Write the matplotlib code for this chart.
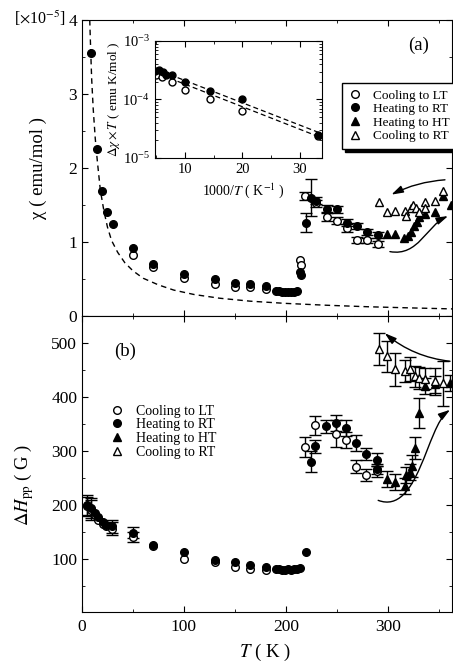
import numpy as np
import matplotlib
matplotlib.use("Agg")
import matplotlib.pyplot as plt
from matplotlib.lines import Line2D
from matplotlib.path import Path
from matplotlib.patches import FancyArrowPatch
from matplotlib.ticker import MultipleLocator, FixedLocator

plt.rcParams["font.family"] = ["Liberation Serif", "DejaVu Serif"]
plt.rcParams["mathtext.fontset"] = "stix"

# ---- (a) susceptibility ----
# Cooling to LT (open circles)
T_cl_a = [50, 70, 100, 130, 150, 165, 180, 214, 215, 219, 230, 240, 250, 260, 270, 280, 290]
chi_cl = [0.83, 0.66, 0.52, 0.43, 0.39, 0.39, 0.36, 0.75, 0.69, 1.62, 1.52, 1.34, 1.29, 1.19, 1.03, 1.02, 0.97]
chi_cl_err = [0, 0, 0, 0, 0, 0, 0, 0, 0, 0.05, 0.05, 0.05, 0.05, 0.05, 0.04, 0.04, 0.04]
# Heating to RT (filled circles)
T_hr_a = [9, 15, 20, 25, 30, 50, 70, 100, 130, 150, 165, 180, 190, 193, 196, 199, 202, 205, 208, 211,
          214, 215, 220, 225, 230, 240, 250, 260, 270, 280, 290]
chi_hr = [3.55, 2.26, 1.69, 1.41, 1.24, 0.92, 0.70, 0.57, 0.50, 0.44, 0.43, 0.41, 0.34, 0.34, 0.33, 0.33,
          0.33, 0.33, 0.33, 0.34, 0.60, 0.55, 1.26, 1.60, 1.56, 1.45, 1.44, 1.26, 1.21, 1.13, 1.10]
chi_hr_err = [0] * 22 + [0.125, 0.25, 0.05, 0.05, 0.05, 0.05, 0.04, 0.04, 0.04]
# Heating to HT (filled triangles)
T_hh_a = [299, 307, 316, 320, 323, 326, 329, 331, 336, 346, 354, 362]
chi_hh = [1.11, 1.11, 1.06, 1.08, 1.14, 1.21, 1.27, 1.34, 1.38, 1.41, 1.62, 1.50]
# Cooling to RT (open triangles)
T_cr_a = [291, 299, 307, 317, 318, 323, 325, 328, 331, 336, 336, 346, 354]
chi_cr = [1.54, 1.40, 1.42, 1.42, 1.35, 1.46, 1.50, 1.46, 1.40, 1.54, 1.46, 1.56, 1.69]
# dashed Curie curve
T_fit = [7.6, 8.5, 9.5, 11, 13, 15, 18, 21.5, 25, 29, 35, 42, 50, 60, 75, 90, 110, 135, 165, 200,
         240, 280, 320, 365]
chi_fit = [4.0, 3.6, 3.2, 2.8, 2.4, 2.1, 1.7, 1.42, 1.2, 1.02, 0.86, 0.72, 0.61, 0.51, 0.42, 0.35,
           0.29, 0.24, 0.20, 0.17, 0.145, 0.125, 0.11, 0.095]

# ---- inset ----
inv_T_hr = [4.78, 5.53, 6.2, 6.8, 7.7, 10, 14.3, 20, 33.2]
dchiT_hr = [3.04e-4, 3.2e-4, 2.9e-4, 2.67e-4, 2.57e-4, 1.96e-4, 1.37e-4, 1.02e-4, 2.5e-5]
inv_T_cl = [5.07, 5.95, 7.7, 10, 14.3, 20, 33.2]
dchiT_cl = [2.67e-4, 2.46e-4, 1.96e-4, 1.45e-4, 1.02e-4, 6.4e-5, 2.4e-5]
fit_x = [4.8, 33.8]
fit_upper = [3.34e-4, 2.6e-5]
fit_lower = [2.9e-4, 2.2e-5]

# ---- (b) linewidth ----
T_cl_b = [5, 8.5, 13, 16, 21, 24, 29, 50, 70, 100, 130, 150, 165, 180, 219, 229, 249, 259, 269, 279, 289]
H_cl = [197, 190, 180, 172, 165, 160, 155, 140, 124, 100, 93, 85, 80, 79, 307, 347, 332, 320, 270, 255, 262]
H_cl_err = [18, 18, 0, 0, 0, 0, 12, 10, 0, 0, 0, 0, 0, 0, 18, 17, 25, 15, 12, 12, 10]
T_hr_b = [5, 8.5, 13, 16, 21, 24, 29, 50, 70, 100, 130, 150, 165, 180, 190, 193, 196, 199, 202, 205,
          208, 211, 214, 220, 225, 229, 239, 249, 259, 269, 279, 289, 289]
H_hr = [199, 194, 184, 177, 168, 162, 160, 148, 125, 112, 98, 94, 89, 85, 80, 80, 79, 79, 80, 79,
        80, 81, 82, 112, 280, 308, 345, 352, 342, 314, 294, 283, 266]
H_hr_err = [18, 18, 0, 0, 0, 0, 12, 10] + [0] * 16 + [20, 12, 12, 15, 15, 15, 12, 12, 10]
T_hh_b = [299, 307, 317, 318, 322, 324, 326.5, 330.5, 336, 346, 361]
H_hh = [247, 242, 235, 255, 261, 272, 305, 370, 420, 423, 425]
H_hh_err = [15, 15, 15, 15, 15, 20, 20, 28, 15, 15, 15]
T_cr_b = [291, 299, 307, 317, 322, 327, 331, 336, 346, 354]
H_cr = [489, 475, 451, 448, 452, 438, 435, 434, 429, 425]
H_cr_err = [29, 29, 30, 20, 22, 20, 20, 20, 25, 42]

labels = ["Cooling to LT", "Heating to RT", "Heating to HT", "Cooling to RT"]
styles = [("o", "white"), ("o", "black"), ("^", "black"), ("^", "white")]

HEAD = "-|>,head_width=0.22,head_length=0.7"


def draw(ax, t, v, err, marker, fill, ms=5.5):
    t, v = np.asarray(t, float), np.asarray(v, float)
    if err is not None:
        err = np.asarray(err, float)
        m = err > 0
        ax.errorbar(t[m], v[m], yerr=err[m], fmt="none", ecolor="black",
                    elinewidth=1, capsize=4.5, capthick=1, zorder=2)
    ax.plot(t, v, ls="none", marker=marker, ms=ms, mfc=fill, mec="black", mew=1, zorder=3)


def curved_arrow(ax, verts):
    codes = [Path.MOVETO] + [Path.CURVE4] * 3
    ax.add_patch(FancyArrowPatch(path=Path(verts, codes), arrowstyle=HEAD,
                                 mutation_scale=10, color="black", lw=1))


def style_axes(ax):
    ax.tick_params(which="both", direction="in", top=True, right=True, labelsize=12.5)
    ax.tick_params(which="major", length=4.5)
    ax.tick_params(which="minor", length=2.5)


fig = plt.figure(figsize=(4.53, 6.63), dpi=100)
ax1 = fig.add_axes([0.181, 0.5234, 0.817, 0.4465])
ax2 = fig.add_axes([0.181, 0.0762, 0.817, 0.4472])

# panel (a)
ax1.plot(T_fit, chi_fit, ls=(0, (4, 3)), color="black", lw=1, zorder=1)
draw(ax1, T_cl_a, chi_cl, chi_cl_err, "o", "white")
draw(ax1, T_hr_a, chi_hr, chi_hr_err, "o", "black")
draw(ax1, T_hh_a, chi_hh, None, "^", "black")
draw(ax1, T_cr_a, chi_cr, None, "^", "white")
ax1.set_xlim(0, 363)
ax1.set_ylim(0, 4)
ax1.xaxis.set_major_locator(FixedLocator([100, 200, 300]))
ax1.xaxis.set_minor_locator(MultipleLocator(50))
ax1.yaxis.set_major_locator(MultipleLocator(1))
ax1.yaxis.set_minor_locator(MultipleLocator(0.5))
style_axes(ax1)
ax1.tick_params(labelbottom=False)
ax1.set_ylabel("χ ( emu/mol )", fontsize=13.5)
ax1.yaxis.set_label_coords(-0.095, 0.5)
ax1.text(0.91, 0.915, "(a)", transform=ax1.transAxes, fontsize=13.5, ha="center", va="center")
fig.text(0.03, 0.972, r"[$\times$10$^{-5}$]", fontsize=11.5, ha="left", va="center")

handles = [Line2D([], [], ls="none", marker=m, mfc=f, mec="black", mew=1, ms=5.5) for m, f in styles]
leg = ax1.legend(handles, labels, loc="upper left", bbox_to_anchor=(0.702, 0.788), fontsize=9.5,
                 frameon=True, fancybox=False, edgecolor="black", framealpha=1,
                 shadow={"color": "black", "alpha": 1}, handlelength=1.0, handletextpad=0.9,
                 borderpad=0.5, labelspacing=0.1, borderaxespad=0)
leg.get_frame().set_linewidth(1)

ax1.annotate("", xy=(303.5, 1.64), xytext=(356, 1.84),
             arrowprops=dict(arrowstyle=HEAD, mutation_scale=10, color="black", lw=1,
                             connectionstyle="arc3,rad=0.1", shrinkA=0, shrinkB=0))
curved_arrow(ax1, [(302, 0.87), (330, 0.80), (338, 1.22), (359, 1.35)])

# inset
axi = fig.add_axes([0.342, 0.7617, 0.3687, 0.1765])
axi.plot(fit_x, fit_upper, ls=(0, (4, 2.5)), color="black", lw=0.9)
axi.plot(fit_x, fit_lower, ls=(0, (4, 2.5)), color="black", lw=0.9)
axi.plot(inv_T_cl, dchiT_cl, ls="none", marker="o", ms=5, mfc="white", mec="black", mew=1)
axi.plot(inv_T_hr, dchiT_hr, ls="none", marker="o", ms=5, mfc="black", mec="black", mew=1)
axi.set_yscale("log")
axi.set_xlim(4.8, 33.8)
axi.set_ylim(1e-5, 1e-3)
axi.xaxis.set_major_locator(FixedLocator([10, 20, 30]))
axi.xaxis.set_minor_locator(FixedLocator([5, 15, 25]))
axi.tick_params(which="both", direction="in", top=True, right=True, labelsize=10.5)
axi.tick_params(which="major", length=4)
axi.tick_params(which="minor", length=2)
axi.set_xlabel(r"1000/$T$ ( K$^{-1}$ )", fontsize=10)
axi.xaxis.set_label_coords(0.53, -0.2)
axi.set_ylabel(r"$\Delta\chi\times T$ ( emu K/mol )", fontsize=9.5)
axi.yaxis.set_label_coords(-0.2, 0.5)

# panel (b)
draw(ax2, T_cl_b, H_cl, H_cl_err, "o", "white")
draw(ax2, T_hr_b, H_hr, H_hr_err, "o", "black")
draw(ax2, T_hh_b, H_hh, H_hh_err, "^", "black")
draw(ax2, T_cr_b, H_cr, H_cr_err, "^", "white")
ax2.set_xlim(0, 363)
ax2.set_ylim(0, 550)
ax2.xaxis.set_major_locator(FixedLocator([0, 100, 200, 300]))
ax2.xaxis.set_minor_locator(MultipleLocator(50))
ax2.yaxis.set_major_locator(FixedLocator([100, 200, 300, 400, 500]))
ax2.yaxis.set_minor_locator(MultipleLocator(50))
style_axes(ax2)
ax2.tick_params(axis="x", pad=5)
ax2.set_ylabel(r"$\Delta H_{\rm pp}$ ( G )", fontsize=13.5)
ax2.yaxis.set_label_coords(-0.124, 0.43)
ax2.set_xlabel(r"$T$ ( K )", fontsize=13.5)
ax2.xaxis.set_label_coords(0.495, -0.1)
ax2.text(0.116, 0.88, "(b)", transform=ax2.transAxes, fontsize=13.5, ha="center", va="center")

ax2.legend(handles, labels, loc="upper left", bbox_to_anchor=(0.06, 0.72), fontsize=10,
           frameon=False, handlelength=1.0, handletextpad=0.9, labelspacing=0.05, borderaxespad=0)

ax2.annotate("", xy=(297, 518), xytext=(361, 466),
             arrowprops=dict(arrowstyle=HEAD, mutation_scale=10, color="black", lw=1,
                             connectionstyle="arc3,rad=-0.15", shrinkA=0, shrinkB=0))
curved_arrow(ax2, [(290.5, 208), (330, 180), (338, 345), (361, 376)])

fig.savefig("out.png", dpi=100)
